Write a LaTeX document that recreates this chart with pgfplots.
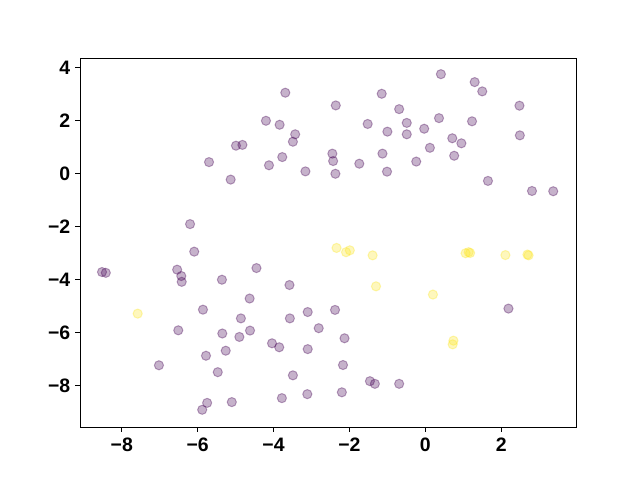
\documentclass[border=0pt]{standalone}
\usepackage{pgfplots}
\pgfplotsset{compat=1.18}
\usepackage{fontspec}
\setmainfont{Liberation Sans}
\definecolor{vpurple}{HTML}{440154}
\definecolor{vyellow}{HTML}{FDE725}
\begin{document}
\begin{tikzpicture}
\path[use as bounding box, fill=white] (-57.6pt,-38.16pt) rectangle (403.2pt,307.44pt);
\begin{axis}[
  at={(0,0)}, anchor=south west,
  scale only axis, width=357.12pt, height=265.68pt,
  xmin=-9.10, xmax=3.97, ymin=-9.57, ymax=4.36,
  xtick={-8,-6,-4,-2,0,2}, ytick={-8,-6,-4,-2,0,2,4},
  xticklabels={−8,−6,−4,−2,0,2},
  yticklabels={−8,−6,−4,−2,0,2,4},
  tick align=outside, xtick pos=bottom, ytick pos=left,
  major tick length=3.5pt,
  axis line style={line width=0.6pt},
  tick style={line width=0.6pt, black},
  tick label style={font=\fontsize{14}{16}\selectfont\bfseries},
  xticklabel style={yshift=-1pt},
]
\addplot[only marks, mark=*, mark size=3.3pt,
  mark options={fill=vpurple, draw=vpurple, fill opacity=0.3, draw opacity=0.35, line width=0.7pt}]
coordinates {
(-3.69,3.05) (-4.20,1.99) (-3.84,1.84) (-3.43,1.48) (-3.49,1.20) (-4.99,1.05) (-4.82,1.08)
(-5.70,0.43) (-3.77,0.62) (-4.12,0.31) (-3.16,0.08) (-5.13,-0.23) (-6.20,-1.91)
(0.41,3.75) (1.30,3.45) (1.50,3.10) (-1.15,3.01) (-2.36,2.57) (2.48,2.56) (-0.69,2.43)
(-1.52,1.87) (0.36,2.09) (-0.49,1.91) (-1.00,1.58) (-0.03,1.69) (-0.49,1.48) (1.23,1.97)
(0.71,1.33) (0.95,1.14) (2.49,1.44) (-2.45,0.75) (-2.43,0.47) (-2.37,-0.01) (-1.74,0.37)
(-1.13,0.75) (-1.01,0.07) (-0.24,0.45) (0.12,0.97) (0.76,0.67) (1.65,-0.28) (2.81,-0.66) (3.37,-0.67)
(-6.09,-2.95) (-8.52,-3.72) (-8.42,-3.75) (-6.54,-3.63) (-6.43,-3.87) (-6.42,-4.09)
(-4.45,-3.57) (-5.36,-4.01) (-3.58,-4.21) (-4.63,-4.72) (-5.86,-5.14) (-4.86,-5.47)
(-3.57,-5.47) (-3.10,-5.23) (-2.81,-5.84) (-6.51,-5.92) (-5.35,-6.04) (-4.62,-5.93)
(-4.90,-6.17) (-4.04,-6.41) (-3.85,-6.56) (-3.10,-6.63) (-5.26,-6.69) (-5.78,-6.88)
(-7.02,-7.24) (-5.47,-7.50) (-3.49,-7.62) (-3.78,-8.48) (-3.11,-8.33) (-5.10,-8.63)
(-5.75,-8.66) (-5.88,-8.92)
(-2.38,-5.15) (2.19,-5.10) (-2.13,-6.22) (-2.17,-7.23) (-1.46,-7.84) (-1.33,-7.94)
(-0.69,-7.94) (-2.20,-8.26)
};
\addplot[only marks, mark=*, mark size=3.3pt,
  mark options={fill=vyellow, draw=vyellow, fill opacity=0.3, draw opacity=0.35, line width=0.7pt}]
coordinates {
(-7.58,-5.29) (-2.34,-2.81) (-2.09,-2.97) (-1.99,-2.90) (-1.39,-3.09) (1.06,-3.01)
(1.14,-2.97) (1.18,-3.00) (2.11,-3.08) (2.69,-3.06) (2.72,-3.09) (-1.30,-4.26)
(0.20,-4.57) (0.74,-6.31) (0.72,-6.45)
};
\end{axis}
\end{tikzpicture}
\end{document}
